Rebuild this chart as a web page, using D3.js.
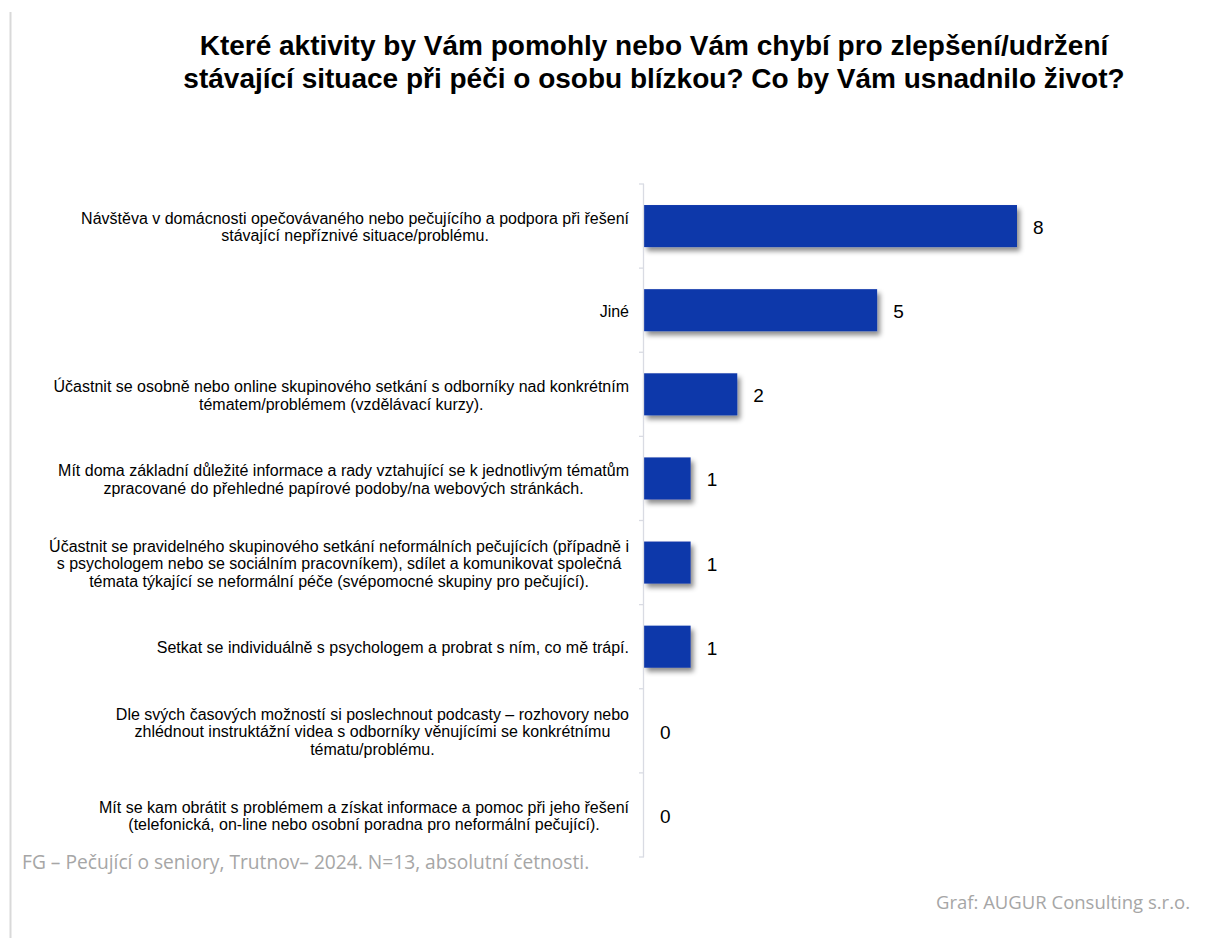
<!DOCTYPE html>
<html>
<head>
<meta charset="utf-8">
<script src="https://cdn.jsdelivr.net/npm/d3@7"></script>
<style>
  body { margin: 0; background: #fff; }
  svg { display: block; }
</style>
</head>
<body>
<div id="chart"></div>
<script>
// data
var titleLines = ["Které aktivity by Vám pomohly nebo Vám chybí pro zlepšení/udržení",
                  "stávající situace při péči o osobu blízkou? Co by Vám usnadnilo život?"];
var categories = [
    ["Návštěva v domácnosti opečovávaného nebo pečujícího a podpora při řešení",
     "stávající nepříznivé situace/problému."],
    ["Jiné"],
    ["Účastnit se osobně nebo online skupinového setkání s odborníky nad konkrétním",
     "tématem/problémem (vzdělávací kurzy)."],
    ["Mít doma základní důležité informace a rady vztahující se k jednotlivým tématům",
     "zpracované do přehledné papírové podoby/na webových stránkách."],
    ["Účastnit se pravidelného skupinového setkání neformálních pečujících (případně i",
     "s psychologem nebo se sociálním pracovníkem), sdílet a komunikovat společná",
     "témata týkající se neformální péče (svépomocné skupiny pro pečující)."],
    ["Setkat se individuálně s psychologem a probrat s ním, co mě trápí."],
    ["Dle svých časových možností si poslechnout podcasty – rozhovory nebo",
     "zhlédnout instruktážní videa s odborníky věnujícími se konkrétnímu",
     "tématu/problému."],
    ["Mít se kam obrátit s problémem a získat informace a pomoc při jeho řešení",
     "(telefonická, on-line nebo osobní poradna pro neformální pečující)."]
];
var values = [8, 5, 2, 1, 1, 1, 0, 0];
var footLeft = "FG – Pečující o seniory, Trutnov– 2024. N=13, absolutní četnosti.";
var footRight = "Graf: AUGUR Consulting s.r.o.";

window.onload = function() {
    var w = 1206, h = 938;
    var barColor = "#0f37aa";

    var svg = d3.select("#chart")
                .append("svg")
                .attr("width", w)
                .attr("height", h);

    // bar shadow
    var filter = svg.append("defs").append("filter")
                    .attr("id", "shadow")
                    .attr("x", "-10%").attr("y", "-20%")
                    .attr("width", "130%").attr("height", "160%");
    filter.append("feDropShadow")
          .attr("dx", 3).attr("dy", 4)
          .attr("stdDeviation", 2.5)
          .attr("flood-color", "#000")
          .attr("flood-opacity", 0.45);

    // thin frame line on the left
    svg.append("line")
       .attr("x1", 10.5).attr("x2", 10.5)
       .attr("y1", 12).attr("y2", h)
       .attr("stroke", "#d9d9d9")
       .attr("stroke-width", 2);

    // title
    svg.append("g").selectAll("text")
       .data(titleLines)
       .enter()
       .append("text")
       .attr("x", 654)
       .attr("y", function(d, i) { return 55 + i * 33; })
       .attr("text-anchor", "middle")
       .style("font-family", "'Liberation Sans', Arial, sans-serif")
       .style("font-weight", "bold")
       .style("font-size", "28px")
       .style("fill", "#000")
       .text(function(d) { return d; });

    var idx = d3.range(categories.length);

    var yScale = d3.scaleBand()
                   .domain(idx)
                   .range([184, 857])
                   .paddingInner(0.5)
                   .paddingOuter(0.25);

    var xScale = d3.scaleLinear()
                   .domain([0, 8])
                   .range([644, 1017]);

    // bars
    svg.append("g").selectAll("rect")
       .data(values)
       .enter()
       .append("rect")
       .attr("x", xScale(0))
       .attr("y", function(d, i) { return yScale(i); })
       .attr("width", function(d) { return xScale(d) - xScale(0); })
       .attr("height", yScale.bandwidth())
       .attr("fill", barColor)
       .attr("filter", "url(#shadow)")
       .style("display", function(d) { return d > 0 ? null : "none"; });

    // axis with ticks on band boundaries
    var y0 = yScale.range()[0], y1 = yScale.range()[1];
    var axisG = svg.append("g");
    axisG.append("line")
         .attr("x1", 643.5).attr("x2", 643.5)
         .attr("y1", y0).attr("y2", y1)
         .attr("stroke", "#d9dbe3")
         .attr("stroke-width", 1.3);
    axisG.selectAll(".tick")
         .data(d3.range(categories.length + 1))
         .enter()
         .append("line")
         .attr("x1", 639).attr("x2", 644)
         .attr("y1", function(d) { return y0 + d * (y1 - y0) / categories.length; })
         .attr("y2", function(d) { return y0 + d * (y1 - y0) / categories.length; })
         .attr("stroke", "#d9dbe3")
         .attr("stroke-width", 1.3);

    // value labels
    svg.append("g").selectAll("text")
       .data(values)
       .enter()
       .append("text")
       .attr("x", function(d) { return xScale(d) + 16; })
       .attr("y", function(d, i) { return yScale(i) + yScale.bandwidth() / 2 + 8; })
       .style("font-family", "'Liberation Sans', Arial, sans-serif")
       .style("font-size", "19px")
       .style("fill", "#000")
       .text(function(d) { return d; });

    // category labels, centred block, right edge at 629
    var lineH = 17.5;
    var labelG = svg.append("g");
    categories.forEach(function(lines, i) {
        var g = labelG.append("g");
        var cy = yScale(i) + yScale.bandwidth() / 2;
        var texts = g.selectAll("text")
                     .data(lines)
                     .enter()
                     .append("text")
                     .attr("text-anchor", "middle")
                     .attr("y", function(d, j) { return cy + (j - (lines.length - 1) / 2) * lineH + 6.5; })
                     .style("font-family", "'Liberation Sans', Arial, sans-serif")
                     .style("font-size", "16px")
                     .style("fill", "#000")
                     .text(function(d) { return d; });
        var maxW = 0;
        texts.each(function() { maxW = Math.max(maxW, this.getComputedTextLength()); });
        texts.attr("x", 629 - maxW / 2);
    });

    // footer notes
    svg.append("text")
       .attr("x", 22)
       .attr("y", 869)
       .style("font-family", "'Open Sans', sans-serif")
       .style("font-size", "19.2px")
       .style("fill", "#a6a6a6")
       .text(footLeft);

    svg.append("text")
       .attr("x", 1190)
       .attr("y", 909)
       .attr("text-anchor", "end")
       .style("font-family", "'Open Sans', sans-serif")
       .style("font-size", "18.5px")
       .style("fill", "#a6a6a6")
       .text(footRight);
};
</script>
</body>
</html>
